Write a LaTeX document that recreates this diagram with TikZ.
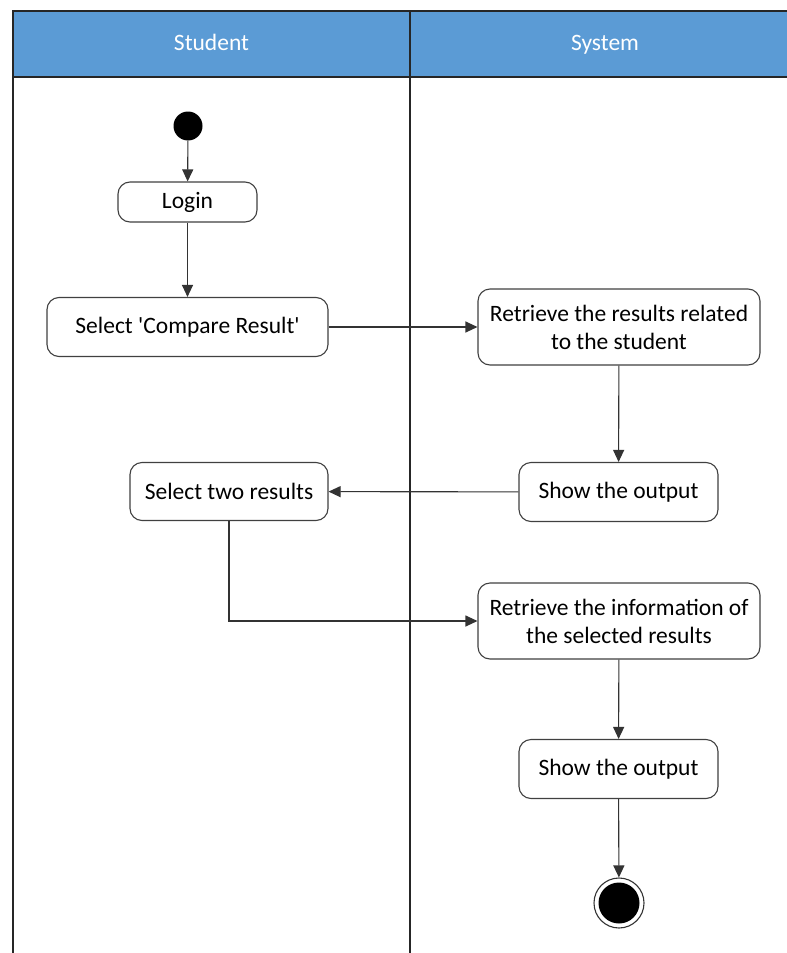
\documentclass[tikz,border=0pt]{standalone}
\usepackage{fontspec}
\setmainfont{Carlito}
\usetikzlibrary{arrows.meta}
\begin{document}
\begin{tikzpicture}[x=1pt,y=-1pt,
  lane/.style={draw=black!85,line width=1.4pt},
  act/.style={draw=black!75,line width=1.1pt,rounded corners=12pt,fill=white,
    align=center,font=\fontsize{23.5}{28}\selectfont,inner sep=0pt},
  flow/.style={draw=black!80,line width=1.1pt,-{Triangle[length=12pt,width=11pt]}},
  hdr/.style={text=white,font=\fontsize{23.5}{28}\selectfont,text height=16pt,text depth=5pt}]
\useasboundingbox (0,0) rectangle (787,953);
% swimlane headers
\fill[fill={rgb,255:red,91;green,155;blue,213}] (13,11) rectangle (787,77);
\draw[lane] (787,11) -- (13,11) -- (13,953);
\draw[lane] (13,77) -- (787,77);
\draw[lane] (410,11) -- (410,953);
\node[hdr] (hs) at (211.5,45) {Student};
\node[hdr] (hy) at (605,45) {System};
% activities
\node[circle,fill=black,minimum size=29pt,inner sep=0pt] (start) at (188,126) {};
\node[act,minimum width=139pt,minimum height=40pt] (login) at (187.5,202) {Login};
\node[act,minimum width=281pt,minimum height=59pt] (cmp) at (187.5,327) {Select \textquotesingle Compare Result\textquotesingle};
\node[act,minimum width=282pt,minimum height=76pt] (ret) at (619,327) {Retrieve the results related\\to the student};
\node[act,minimum width=199pt,minimum height=59pt] (out1) at (618.5,492) {Show the output};
\node[act,minimum width=198pt,minimum height=58pt] (two) at (229,491.5) {Select two results};
\node[act,minimum width=282pt,minimum height=76pt] (inf) at (619,621) {Retrieve the information of\\the selected results};
\node[act,minimum width=199pt,minimum height=59pt] (out2) at (618.5,769) {Show the output};
\node[circle,draw=black!80,line width=1.1pt,minimum size=50pt,inner sep=0pt] (stop) at (619,903) {};
\fill[black] (stop.center) circle (20.5pt);
% control flow
\draw[flow] (start) -- (login);
\draw[flow] (login) -- (cmp);
\draw[flow] (cmp) -- (ret);
\draw[flow] (ret) -- (out1);
\draw[flow] (out1) -- (two);
\draw[flow] (two.south) |- (inf.west);
\draw[flow] (inf) -- (out2);
\draw[flow] (out2) -- (stop);
\end{tikzpicture}
\end{document}
